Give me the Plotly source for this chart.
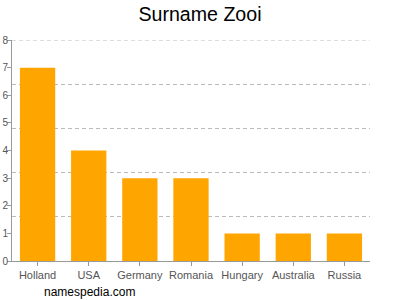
import plotly.graph_objects as go

countries = ["Holland", "USA", "Germany", "Romania", "Hungary", "Australia", "Russia"]
counts = [7, 4, 3, 3, 1, 1, 1]
y_ticks = [0, 1, 2, 3, 4, 5, 6, 7, 8]
grid_vals = [0, 1.6, 3.2, 4.8, 6.4, 8]

GRID_COLOR = "#BBBBBB"
GRID_DASH = "4px,3px"

fig = go.Figure()
fig.add_trace(go.Bar(x=countries, y=counts, marker=dict(color="#FFA500", line=dict(width=0)),
                     hoverinfo="skip"))
# invisible trace to attach grid axis
fig.add_trace(go.Scatter(x=[countries[0]], y=[0], yaxis="y2", mode="markers",
                         marker=dict(opacity=0), hoverinfo="skip", showlegend=False))

fig.update_layout(
    width=400, height=300,
    margin=dict(l=12, r=30, t=40, b=39),
    paper_bgcolor="white", plot_bgcolor="white",
    showlegend=False, bargap=0.31,
    font=dict(family="Liberation Sans, Arial, sans-serif", color="#555555", size=11),
    title=dict(text="Surname Zooi", x=0.5, xanchor="center", y=0.953, yanchor="middle",
               font=dict(size=19.6, color="#000000")),
    xaxis=dict(showgrid=False, showline=True, linecolor="#999999", linewidth=1,
               ticks="outside", ticklen=4, tickcolor="#999999", automargin=False,
               tickfont=dict(size=11, color="#555555"), range=[-0.5, 6.5]),
    yaxis=dict(range=[0, 8], tickvals=y_ticks, showgrid=False, zeroline=False,
               showline=True, linecolor="#999999", linewidth=1, automargin=False,
               ticks="outside", ticklen=4, tickcolor="#999999",
               tickfont=dict(size=10, color="#555555"), ticklabelstandoff=-3),
    yaxis2=dict(range=[0, 8], tickvals=grid_vals, overlaying="y", side="left",
                showgrid=True, gridcolor=GRID_COLOR, griddash=GRID_DASH, gridwidth=1,
                showticklabels=False, zeroline=False, showline=False, ticks="",
                automargin=False),
)
# top gridline (plotly drops gridlines lying on the range edge)
fig.add_shape(type="line", xref="paper", yref="y", x0=0, x1=1,
              y0=grid_vals[-1], y1=grid_vals[-1], layer="below",
              line=dict(color=GRID_COLOR, width=1, dash=GRID_DASH))
fig.add_annotation(text="namespedia.com", xref="paper", yref="paper", x=0.085, y=-0.14,
                   xanchor="left", yanchor="middle", showarrow=False,
                   font=dict(size=12, color="#000000"))
fig.write_html("out.html")
